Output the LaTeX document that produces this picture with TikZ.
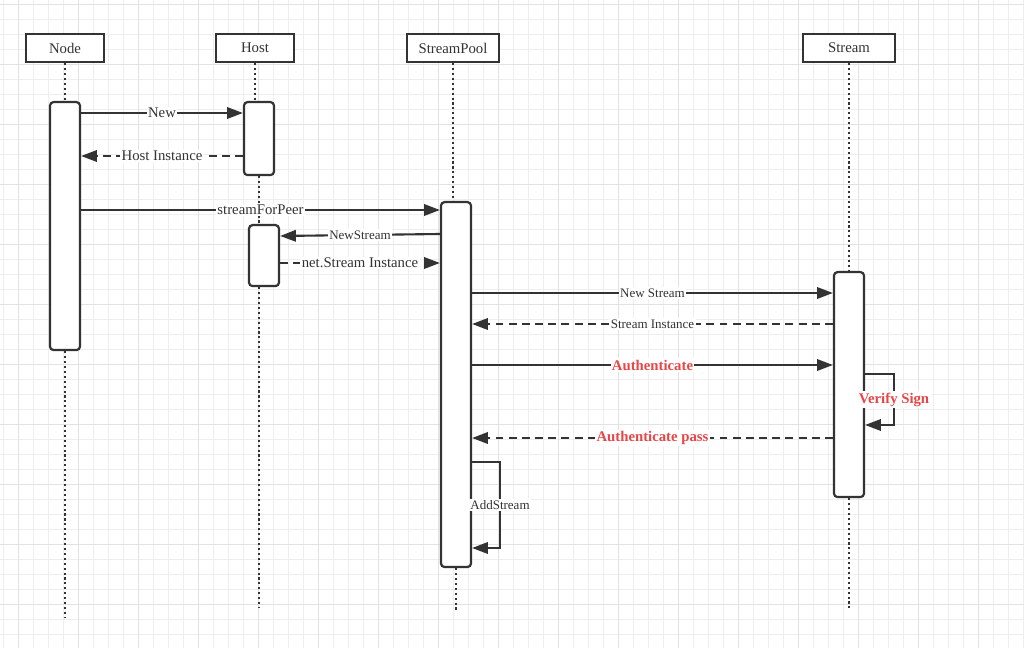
\documentclass[tikz,border=0pt]{standalone}
\usepackage{fontspec}
\setmainfont{Liberation Serif}
\usetikzlibrary{arrows.meta,positioning}
\definecolor{linegray}{HTML}{333333}
\definecolor{gridminor}{HTML}{EEEEEE}
\definecolor{gridmajor}{HTML}{E2E2E2}
\definecolor{alertred}{HTML}{E84646}

\begin{document}
\begin{tikzpicture}[x=0.02cm,y=-0.02cm]
     \tikzstyle{head_style} = [draw=linegray,line width=1.25pt,fill=white,minimum width=1.56cm,minimum height=0.56cm,inner sep=0pt,text=linegray,font=\fontsize{8.4}{10}\selectfont]
     \tikzstyle{act_style} = [draw=linegray,line width=1.25pt,fill=white,rounded corners=2pt,minimum width=0.6cm,anchor=north,inner sep=0pt]
     \tikzstyle{life_style} = [draw=linegray,line width=1.3pt,dash pattern=on 1.2pt off 1.6pt]
     \tikzstyle{call_style} = [draw=linegray,line width=1.2pt,-{Triangle[length=9pt,width=6.5pt]}]
     \tikzstyle{ret_style} = [call_style,dash pattern=on 4.5pt off 3pt]
     \tikzstyle{label_style} = [fill=white,inner sep=0.8pt,text=linegray,font=\fontsize{8.4}{10}\selectfont]
     \tikzstyle{small_label} = [label_style,font=\fontsize{7.4}{9}\selectfont]
     \tikzstyle{red_label} = [label_style,text=alertred,font=\fontsize{8.4}{10}\selectfont\bfseries]
     \useasboundingbox (0,0) rectangle (1024,648);
     \fill[white] (0,0) rectangle (1024,648);
     % grid
     \foreach \x in {3,18,...,1023} \draw[gridminor,line width=0.55pt] (\x,0) -- (\x,648);
     \foreach \y in {4,19,...,647} \draw[gridminor,line width=0.55pt] (0,\y) -- (1024,\y);
     \foreach \x in {18,78,...,1023} \draw[gridmajor,line width=0.55pt] (\x,0) -- (\x,648);
     \foreach \y in {4,64,...,647} \draw[gridmajor,line width=0.55pt] (0,\y) -- (1024,\y);
     % heads
     \node[head_style] (nodehead) at (65,48) {Node};
     \node[head_style] (hosthead) at (255,48) {Host};
     \node[head_style,minimum width=1.84cm] (poolhead) at (453,48) {StreamPool};
     \node[head_style,minimum width=1.84cm] (streamhead) at (849,48) {Stream};
     % activations
     \node[act_style,minimum height=4.96cm] (nodeact) at (65,101) {};
     \node[act_style,minimum height=1.46cm] (hostact) at (259,101) {};
     \node[act_style,minimum height=1.22cm] (hostnew) at (264,224) {};
     \node[act_style,minimum height=7.3cm] (poolact) at (456,201) {};
     \node[act_style,minimum height=4.5cm] (streamact) at (849,271) {};
     \coordinate (nodeend) at (64,617);
     \coordinate (hostend) at (260,607);
     \coordinate (poolend) at (455,612);
     \coordinate (streamend) at (851,608);
     % lifelines
     \draw[life_style] (nodehead.south) -- (nodeact.north);
     \draw[life_style] (nodeact.south) -- (nodeact.south |- nodeend);
     \draw[life_style] (hosthead.south) -- (hosthead.south |- hostact.north);
     \draw[life_style] (hostact.south) -- (hostact.south |- hostnew.north);
     \draw[life_style] (hostnew.south -| hostact.south) -- (hostact.south |- hostend);
     \draw[life_style] (poolhead.south) -- (poolhead.south |- poolact.north);
     \draw[life_style] (poolact.south) -- (poolact.south |- poolend);
     \draw[life_style] (streamhead.south) -- (streamact.north);
     \draw[life_style] (streamact.south) -- (streamact.south |- streamend);
     % messages
     \draw[call_style] (nodeact.east |- 0,113) -- node[label_style] {New} (hostact.west |- 0,113);
     \draw[ret_style] (hostact.west |- 0,156) -- node[label_style] {Host Instance} (nodeact.east |- 0,156);
     \draw[call_style] (nodeact.east |- 0,210) -- node[label_style] {streamForPeer} (poolact.west |- 0,210);
     \draw[call_style] (poolact.west |- 0,234) -- node[small_label] {NewStream} (hostnew.east |- 0,236);
     \draw[ret_style] (hostnew.east |- 0,263) -- node[label_style] {net.Stream Instance} (poolact.west |- 0,263);
     \draw[call_style] (poolact.east |- 0,293) -- node[small_label] {New Stream} (streamact.west |- 0,293);
     \draw[ret_style] (streamact.west |- 0,324) -- node[small_label] {Stream Instance} (poolact.east |- 0,324);
     \draw[call_style] (poolact.east |- 0,365) -- node[red_label] {Authenticate} (streamact.west |- 0,365);
     \draw[call_style] (streamact.east |- 0,374) -- (894,374) -- node[red_label] {Verify Sign} (894,425) -- (streamact.east |- 0,425);
     \draw[ret_style] (streamact.west |- 0,438) -- node[red_label] {Authenticate pass} (poolact.east |- 0,438);
     \draw[call_style] (poolact.east |- 0,462) -- (500,462) -- node[small_label] {AddStream} (500,548) -- (poolact.east |- 0,548);
\end{tikzpicture}
\end{document}
